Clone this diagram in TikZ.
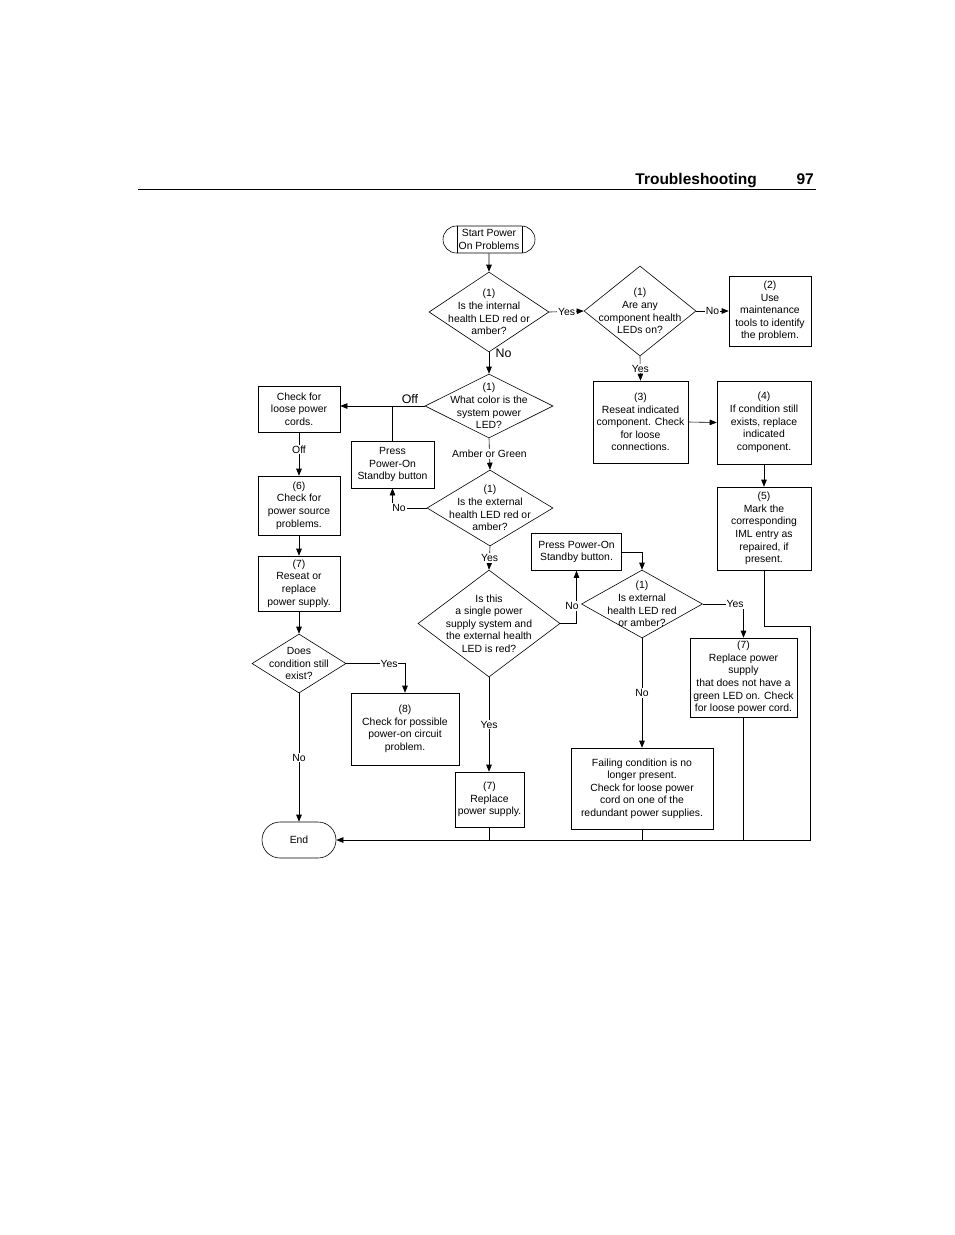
\documentclass[tikz,border=0pt]{standalone}
\usepackage{fontspec}
\setmainfont{Liberation Sans}
\usetikzlibrary{shapes.geometric,shapes.misc,arrows.meta}
\begin{document}
\begin{tikzpicture}[x=1pt,y=-1pt,
  every node/.style={font=\fontsize{10.4}{12.6}\selectfont},
  bx/.style={draw,rectangle,align=center,inner sep=0pt,line width=0.6pt},
  dia/.style={draw,diamond,inner sep=0pt,line width=0.6pt},
  term/.style={draw,rounded rectangle,inner sep=0pt,line width=0.6pt,align=center},
  con/.style={line width=0.6pt},
  arr/.style={con,-{Triangle[length=7pt,width=5.5pt]}},
  lbl/.style={fill=white,inner sep=1pt},
  biglbl/.style={font=\fontsize{12.4}{14}\selectfont,inner sep=0pt},
  txt/.style={align=center,inner sep=0pt},
  hdr/.style={anchor=base east,font=\bfseries\fontsize{15.5}{18}\selectfont,inner sep=0pt}
]
\useasboundingbox (0,0) rectangle (954,1235);
\fill[white] (0,0) rectangle (954,1235);

% header
\node[hdr] (title) at (757,184) {Troubleshooting};
\node[hdr] (page) at (814,184) {97};
\draw[line width=1.1pt] (138,189.5) -- (816,189.5);

% terminators
\node[term,minimum width=92pt,minimum height=27pt] (start) at (489,239.5) {Start Power\\On Problems};
\draw[con] ([xshift=-32pt]start.north) -- ([xshift=-32pt]start.south);
\draw[con] ([xshift=33pt]start.north) -- ([xshift=33pt]start.south);
\node[term,minimum width=74pt,minimum height=36pt] (end) at (299,840) {End};

% diamonds
\node[dia,minimum width=120pt,minimum height=80pt] (d1) at (489,312) {};
\node[txt] (d1t) at (d1) {(1)\\Is the internal\\health LED red or\\amber?};
\node[dia,minimum width=112pt,minimum height=90pt] (d2) at (640,311) {};
\node[txt] (d2t) at (d2) {(1)\\Are any\\component health\\LEDs on?};
\node[dia,minimum width=128pt,minimum height=64pt] (d3) at (489,406) {};
\node[txt] (d3t) at (d3) {(1)\\What color is the\\system power\\LED?};
\node[dia,minimum width=126pt,minimum height=76pt] (d4) at (490,508) {};
\node[txt] (d4t) at (d4) {(1)\\Is the external\\health LED red or\\amber?};
\node[dia,minimum width=142pt,minimum height=107pt] (d5) at (489,623.5) {};
\node[txt] (d5t) at (d5) {Is this\\a single power\\supply system and\\the external health\\LED is red?};
\node[dia,minimum width=121pt,minimum height=68pt] (d6) at (642,604) {};
\node[txt] (d6t) at (d6) {(1)\\Is external\\health LED red\\or amber?};
\node[dia,minimum width=94pt,minimum height=59pt] (d7) at (299,663.5) {};
\node[txt] (d7t) at (d7) {Does\\condition still\\exist?};

% boxes
\node[bx,minimum width=82pt,minimum height=70pt] (b2) at (770,311) {(2)\\Use\\maintenance\\tools to identify\\the problem.};
\node[bx,minimum width=95pt,minimum height=82pt] (b3) at (640.5,422) {(3)\\Reseat indicated\\component. Check\\for loose\\connections.};
\node[bx,minimum width=94pt,minimum height=83pt] (b4) at (764,422.5) {(4)\\If condition still\\exists, replace\\indicated\\component.};
\node[bx,minimum width=94pt,minimum height=83pt] (b5) at (764,528.5) {(5)\\Mark the\\corresponding\\IML entry as\\repaired, if\\present.};
\node[bx,minimum width=82pt,minimum height=46pt] (cords) at (299,409) {Check for\\loose power\\cords.};
\node[bx,minimum width=83pt,minimum height=47pt] (pp1) at (392.5,464.5) {Press\\Power-On\\Standby button};
\node[bx,minimum width=82pt,minimum height=59pt] (b6) at (299,505.5) {(6)\\Check for\\power source\\problems.};
\node[bx,minimum width=82pt,minimum height=55pt] (b7l) at (299,583.5) {(7)\\Reseat or\\replace\\power supply.};
\node[bx,minimum width=108pt,minimum height=72pt] (b8) at (405,729) {(8)\\Check for possible\\power-on circuit\\problem.};
\node[bx,minimum width=90pt,minimum height=37pt] (pp2) at (576.5,552) {Press Power-On\\Standby button.};
\node[bx,minimum width=107pt,minimum height=79pt] (r7) at (743.5,677.5) {(7)\\Replace power\\supply\\that does not have a\\green LED on. Check\\for loose power cord.};
\node[bx,minimum width=142pt,minimum height=81pt] (fc) at (642,788.5) {Failing condition is no\\longer present.\\Check for loose power\\cord on one of the\\redundant power supplies.};
\node[bx,minimum width=69pt,minimum height=55pt] (r7b) at (489.5,799.5) {(7)\\Replace\\power supply.};

% connectors
\draw[arr] (start) -- (d1);
\draw[arr] (d1.east) -- node[lbl] (ly1) {Yes} (d2.west);
\draw[arr] (d2.east) -- node[lbl] (ln2) {No} (b2.west);
\draw[arr] (d1.south) -- (d3.north);
\node[biglbl] (ln1) at (503.5,353.5) {No};
\draw[arr] (d2.south) -- node[lbl] (ly2) {Yes} (b3.north);
\draw[arr] (b3.east) -- (b4.west);
\draw[arr] (b4.south) -- (b5.south |- b5.north);

\draw[arr] (d3.west) -- (d3.west -| cords.east);
\node[biglbl] (loff) at (410,399.5) {Off};
\coordinate (j1) at (pp1.north |- d3.west);
\draw[con] (pp1.north) -- (j1);
\draw[arr] (d3.south) -- node[lbl] (lag) {Amber or Green} (d4.north);
\coordinate (c4) at (pp1.south |- d4.west);
\draw[arr] (d4.west) -- (c4) -- (pp1.south);
\node[lbl] (ln4) at (399,508) {No};
\draw[arr] (d4.south) -- node[lbl] (ly4) {Yes} (d5.north);

\coordinate (c5) at (pp2.south |- d5.east);
\draw[arr] (d5.east) -- (c5) -- (pp2.south);
\node[lbl] (ln5) at (572,606) {No};
\coordinate (c6) at (d6.north |- pp2.east);
\draw[arr] (pp2.east) -- (c6) -- (d6.north);
\coordinate (c7) at (r7.north |- d6.east);
\draw[arr] (d6.east) -- (c7) -- (r7.north);
\node[lbl] (ly6) at (735,604) {Yes};
\draw[arr] (d6.south) -- node[lbl] (ln6) {No} (d6.south |- fc.north);
\draw[arr] (d5.south) -- node[lbl] (ly5) {Yes} (d5.south |- r7b.north);

\draw[arr] (cords.south) -- node[lbl,pos=0.4] (loff2) {Off} (b6.north);
\draw[arr] (b6.south) -- (b7l.north);
\draw[arr] (b7l.south) -- (d7.north);
\coordinate (c8) at (b8.north |- d7.east);
\draw[arr] (d7.east) -- (c8) -- (b8.north);
\node[lbl] (ly7) at (389,663.5) {Yes};
\draw[arr] (d7.south) -- node[lbl] (ln7) {No} (end.north);

% return lines to End
\coordinate (k1) at (b5.south |- 0,626);
\coordinate (k2) at (810,626);
\coordinate (k3) at (810,840);
\draw[arr] (b5.south) -- (k1) -- (k2) -- (k3) -- (end.east);
\draw[con] (r7.south) -- (r7.south |- k3);
\draw[con] (fc.south) -- (fc.south |- k3);
\draw[con] (r7b.south) -- (r7b.south |- k3);
\end{tikzpicture}
\end{document}
